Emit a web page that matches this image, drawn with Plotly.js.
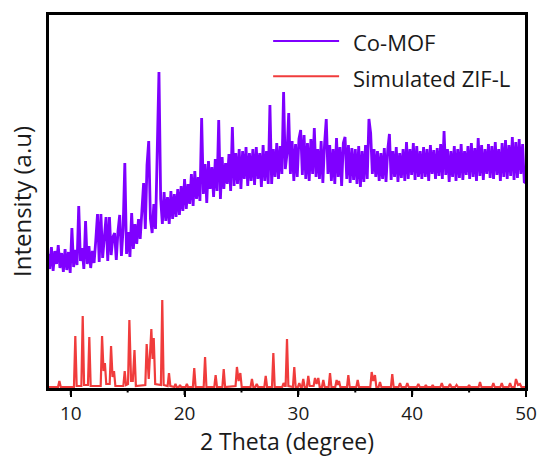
<!DOCTYPE html>
<html>
<head>
<meta charset="utf-8">
<script src="https://cdn.plot.ly/plotly-3.0.1.min.js"></script>
<style>html,body{margin:0;padding:0;background:#fff;}#chart{width:542px;height:457px;}</style>
</head>
<body>
<div id="chart"></div>
<script>
// ---- Data ----
const seriesNames = ["Co-MOF", "Simulated ZIF-L"];
const xRange = [8, 50];
const xTickVals = [10, 20, 30, 40, 50];
const xMinorTickVals = [15, 25, 35, 45];

// Co-MOF measured scan: uniform 2θ step starting at 8°
const scanStart = 8;
const scanStep = 0.15;
const coMofY = [
  135,120,142,118,138,125,144,121,136,117,
  140,119,137,116,161,122,139,124,183,128,
  141,120,168,125,143,121,138,126,149,175,
  127,175,131,150,172,128,172,134,152,156,
  129,158,174,133,160,226,135,157,132,176,
  140,165,145,170,150,178,206,160,224,248,
  170,156,185,160,230,317,190,165,197,168,
  192,165,198,170,195,172,200,174,203,178,
  210,180,205,185,215,183,218,190,212,188,
  271,195,225,186,228,200,222,192,230,198,
  269,190,232,200,226,205,235,198,262,203,
  236,205,240,200,238,210,242,203,236,208,
  240,204,242,210,236,202,244,208,238,205,
  284,205,240,212,246,210,243,215,297,220,
  235,276,215,248,208,245,212,250,259,214,
  254,210,246,208,250,215,261,212,240,210,
  248,206,245,270,215,244,208,240,205,251,
  212,242,203,246,252,210,244,206,241,209,
  240,205,243,202,238,207,244,210,270,256,
  215,240,212,238,208,236,210,241,207,239,
  255,209,238,212,242,207,236,211,240,208,
  247,210,240,214,246,209,243,212,238,210,
  242,212,240,208,244,215,239,210,241,213,
  245,210,258,214,240,207,238,212,243,208,
  240,211,245,209,238,214,243,210,246,212,
  241,208,251,213,244,209,240,215,245,211,
  243,210,247,214,240,208,246,212,249,210,
  244,213,252,209,247,211,250,215,245,207,
  206
];

// Simulated ZIF-L pattern
const zifX = [
  8, 8.88, 9.0, 9.12,
  10.28, 10.4, 10.52,
  10.93, 11.05, 11.17,
  11.51, 11.63, 11.75,
  12.63, 12.75, 12.88, 13.0, 13.12,
  13.42, 13.54, 13.67, 13.8, 13.92,
  14.62, 14.74, 14.86,
  15.03, 15.15, 15.3, 15.45, 15.6, 15.72,
  16.55, 16.67, 16.85, 17.08, 17.19, 17.29, 17.42,
  17.92, 18.04, 18.16,
  18.51, 18.63, 18.75,
  19.1, 19.2, 19.3, 19.5, 19.6, 19.7, 20.1, 20.2, 20.3,
  20.73, 20.85, 20.97,
  21.68, 21.8, 21.92,
  22.61, 22.73, 22.85,
  23.32, 23.44, 23.56,
  24.48, 24.6, 24.75, 24.9, 25.02,
  25.8, 25.92, 26.04, 26.22, 26.34, 26.46,
  27.01, 27.13, 27.25,
  27.68, 27.8, 27.92,
  28.58, 28.7, 28.8, 28.88, 29.0, 29.12,
  29.52, 29.64, 29.76,
  29.96, 30.08, 30.2, 30.31, 30.43, 30.55,
  30.75, 30.87, 30.99, 31.34, 31.46, 31.6, 31.75, 31.87,
  32.07, 32.19, 32.31,
  32.66, 32.78, 32.9,
  33.24, 33.36, 33.46, 33.57, 33.69,
  34.27, 34.39, 34.51,
  35.09, 35.21, 35.33,
  36.32, 36.44, 36.58, 36.73, 36.85,
  37.05, 37.17, 37.29,
  38.13, 38.25, 38.37,
  38.81, 38.93, 39.05,
  39.45, 39.57, 39.69,
  40.42, 40.54, 40.66,
  41.1, 41.2, 41.3, 41.7, 41.8, 41.9,
  42.48, 42.6, 42.72,
  43.2, 43.32, 43.44,
  43.78, 43.9, 44.02,
  44.9, 45.0, 45.1,
  45.84, 45.96, 46.08,
  47.01, 47.13, 47.25,
  47.75, 47.87, 47.99,
  48.48, 48.6, 48.72,
  49.0, 49.12, 49.3, 49.47, 49.6, 50
];
const zifY = [
  2, 2, 8, 2,
  2, 53, 3,
  3, 73, 4,
  4, 52, 3,
  3, 53, 18, 26, 5,
  5, 43, 12, 18, 3,
  3, 18, 4,
  5, 69, 8, 8, 39, 3,
  4, 45, 10, 60, 30, 51, 5,
  4, 89, 4,
  3, 16, 3,
  2, 5, 2, 2, 4, 2, 2, 5, 2,
  2, 21, 2,
  2, 32, 2,
  2, 14, 2,
  2, 20, 2,
  3, 22, 8, 16, 2,
  2, 10, 2, 2, 5, 2,
  2, 13, 2,
  2, 36, 2,
  2, 6, 3, 3, 50, 3,
  2, 22, 2,
  2, 6, 2, 2, 10, 2,
  2, 13, 3, 3, 11, 5, 11, 2,
  2, 9, 2,
  2, 16, 2,
  2, 9, 4, 8, 2,
  2, 14, 2,
  2, 9, 2,
  2, 17, 8, 14, 2,
  2, 7, 2,
  2, 15, 2,
  2, 6, 2,
  2, 6, 2,
  2, 5, 2,
  2, 4, 2, 2, 4, 2,
  2, 6, 2,
  2, 5, 2,
  2, 4, 2,
  2, 4, 2,
  2, 7, 2,
  2, 6, 2,
  2, 6, 2,
  2, 6, 2,
  2, 10, 4, 5, 2, 2
];

const colors = ["#7F00FF", "#F03C3C"];
const FONT = "Open Sans, DejaVu Sans, sans-serif";
const PLOT_H = 457 - 14 - 68;

const traces = [
  {type: "scatter", mode: "lines", name: seriesNames[0], x0: scanStart, dx: scanStep, y: coMofY,
   line: {color: colors[0], width: 2.8}, showlegend: false},
  {type: "scatter", mode: "lines", name: seriesNames[1], x: zifX, y: zifY,
   line: {color: colors[1], width: 2.2}, showlegend: false}
];

// frame + ticks as paper shapes (tick positions as fractions of the x axis range; domain = [0,1])
const frac = v => (v - xRange[0]) / (xRange[1] - xRange[0]);
const shapes = [
  {type: "rect", xref: "paper", yref: "paper", x0: 0, x1: 1, y0: 0, y1: 1, layer: "above",
   line: {color: "#000000", width: 2}, fillcolor: "rgba(0,0,0,0)"}
];
xTickVals.forEach(v => shapes.push({type: "line", xref: "paper", yref: "paper", x0: frac(v), x1: frac(v),
  y0: 0, y1: -6 / PLOT_H, layer: "above", line: {color: "#000000", width: 2}}));
xMinorTickVals.forEach(v => shapes.push({type: "line", xref: "paper", yref: "paper", x0: frac(v), x1: frac(v),
  y0: 0, y1: -3.5 / PLOT_H, layer: "above", line: {color: "#000000", width: 2}}));

// custom legend (long sample lines like the reference)
const legY = [0.928, 0.834];
seriesNames.forEach((n, i) => shapes.push({
  type: "line", xref: "paper", yref: "paper", x0: 0.471, x1: 0.609, y0: legY[i], y1: legY[i],
  line: {color: colors[i], width: 2}
}));
const annotations = seriesNames.map((n, i) => ({
  text: n, xref: "paper", yref: "paper", x: 0.633, y: legY[i] - 0.004, xanchor: "left", yanchor: "middle",
  showarrow: false, font: {family: FONT, size: 22, color: "#1a1a1a"}
}));

const layout = {
  width: 542, height: 457,
  margin: {l: 48, r: 16, t: 14, b: 68},
  paper_bgcolor: "#ffffff", plot_bgcolor: "#ffffff",
  showlegend: false,
  font: {family: FONT, color: "#1a1a1a"},
  xaxis: {
    range: xRange, tickmode: "array", tickvals: xTickVals,
    ticks: "outside", ticklen: 6, tickwidth: 2, tickcolor: "#000000",
    showline: true, linewidth: 2, linecolor: "#000000", mirror: true,
    showgrid: false, zeroline: false,
    tickfont: {family: FONT, size: 19, color: "#1a1a1a"},
    title: {text: "2 Theta (degree)", font: {family: FONT, size: 23, color: "#1a1a1a"}, standoff: 9}
  },
  yaxis: {
    range: [0, 375], showticklabels: false, ticks: "",
    showline: true, linewidth: 2, linecolor: "#000000", mirror: true,
    showgrid: false, zeroline: false,
    title: {text: "Intensity (a.u)", font: {family: FONT, size: 24, color: "#1a1a1a"}, standoff: 8}
  },
  shapes: shapes,
  annotations: annotations
};

Plotly.newPlot("chart", traces, layout, {displayModeBar: false, staticPlot: true});
</script>
</body>
</html>
